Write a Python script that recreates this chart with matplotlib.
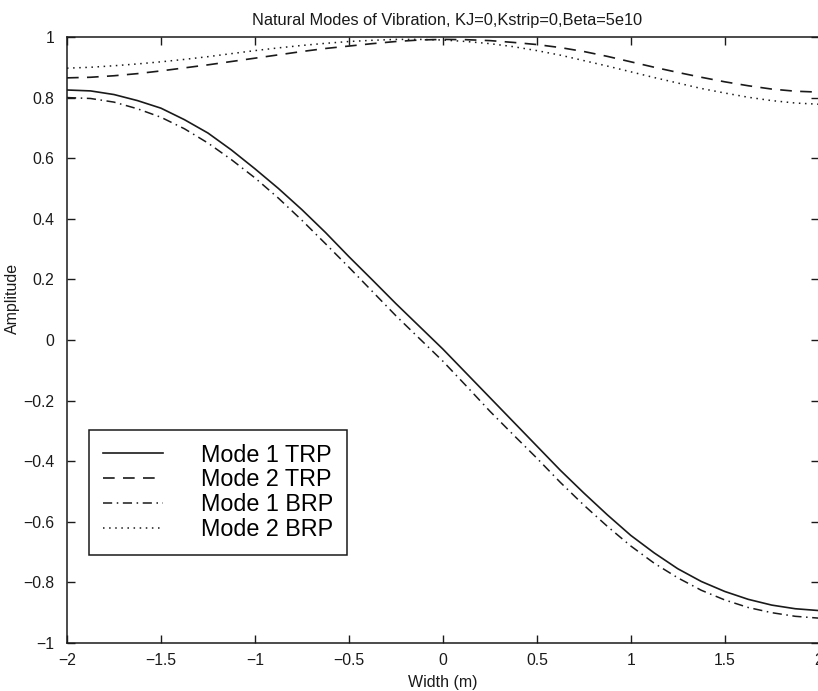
import matplotlib
matplotlib.use("Agg")
import matplotlib.pyplot as plt

plt.rcParams['font.family'] = ['Liberation Sans', 'DejaVu Sans']

width = [-2.0, -1.875, -1.75, -1.625, -1.5, -1.375, -1.25, -1.125, -1.0,
         -0.875, -0.75, -0.625, -0.5, -0.375, -0.25, -0.125, 0.0,
         0.125, 0.25, 0.375, 0.5, 0.625, 0.75, 0.875, 1.0,
         1.125, 1.25, 1.375, 1.5, 1.625, 1.75, 1.875, 2.0]

mode1_trp = [0.825, 0.822, 0.81, 0.79, 0.765, 0.727, 0.683, 0.627, 0.565,
             0.5, 0.43, 0.355, 0.275, 0.198, 0.12, 0.045, -0.03,
             -0.11, -0.19, -0.27, -0.35, -0.43, -0.505, -0.577, -0.645,
             -0.703, -0.755, -0.797, -0.83, -0.856, -0.875, -0.887, -0.893]
mode2_trp = [0.865, 0.867, 0.872, 0.879, 0.888, 0.898, 0.908, 0.919, 0.93,
             0.941, 0.952, 0.962, 0.97, 0.978, 0.985, 0.99, 0.992,
             0.991, 0.988, 0.982, 0.975, 0.965, 0.952, 0.936, 0.918,
             0.9, 0.883, 0.867, 0.852, 0.839, 0.828, 0.821, 0.818]
mode1_brp = [0.80, 0.797, 0.785, 0.763, 0.735, 0.697, 0.65, 0.595, 0.535,
             0.468, 0.395, 0.318, 0.24, 0.16, 0.08, 0.005, -0.07,
             -0.152, -0.235, -0.313, -0.39, -0.47, -0.545, -0.615, -0.68,
             -0.737, -0.785, -0.826, -0.858, -0.883, -0.90, -0.912, -0.918]
mode2_brp = [0.897, 0.9, 0.905, 0.911, 0.918, 0.926, 0.935, 0.945, 0.955,
             0.964, 0.972, 0.979, 0.985, 0.989, 0.992, 0.992, 0.99,
             0.985, 0.978, 0.968, 0.955, 0.94, 0.922, 0.904, 0.885,
             0.866, 0.848, 0.83, 0.815, 0.801, 0.79, 0.782, 0.778]

xticks = [-2, -1.5, -1, -0.5, 0, 0.5, 1, 1.5, 2]
xticklabels = ['\u22122', '\u22121.5', '\u22121', '\u22120.5', '0', '0.5', '1', '1.5', '2']
yticks = [-1, -0.8, -0.6, -0.4, -0.2, 0, 0.2, 0.4, 0.6, 0.8, 1]
yticklabels = ['\u22121', '\u22120.8', '\u22120.6', '\u22120.4', '\u22120.2', '0',
               '0.2', '0.4', '0.6', '0.8', '1']

fig = plt.figure(figsize=(8.18, 6.91), dpi=100)
ax = fig.add_axes([0.0819, 0.0695, 0.919, 0.877])

ink = '#1a1a1a'
ax.plot(width, mode1_trp, '-', color=ink, lw=1.2, label='Mode 1 TRP')
ax.plot(width, mode2_trp, color=ink, lw=1.2, dashes=(7, 5), label='Mode 2 TRP')
ax.plot(width, mode1_brp, color=ink, lw=1.1, dashes=(6, 3, 1, 3), label='Mode 1 BRP')
ax.plot(width, mode2_brp, color=ink, lw=1.1, dashes=(1, 3), label='Mode 2 BRP')

ax.set_xlim(-2, 2)
ax.set_ylim(-1, 1)
ax.set_xticks(xticks)
ax.set_xticklabels(xticklabels)
ax.set_yticks(yticks)
ax.set_yticklabels(yticklabels)
ax.tick_params(direction='in', length=6, width=1, top=True, right=True,
               labelsize=11.3, colors=ink)
ax.tick_params(axis='x', pad=7)
ax.tick_params(axis='y', pad=9)
for s in ax.spines.values():
    s.set_linewidth(1.1)
    s.set_color(ink)

fig.text(0.547, 0.970, 'Natural Modes of Vibration, KJ=0,Kstrip=0,Beta=5e10',
         fontsize=11.8, color=ink, ha='center', va='center')
ax.set_xlabel('Width (m)', fontsize=11.5, color=ink, labelpad=5)
ax.set_ylabel('Amplitude', fontsize=11.5, color=ink)
ax.yaxis.set_label_coords(-0.062, 0.569)

leg = ax.legend(loc='lower left', bbox_to_anchor=(0.029, 0.145),
                borderaxespad=0, fontsize=16.8, handlelength=2.6,
                handletextpad=1.6, labelspacing=0.08, borderpad=0.6,
                fancybox=False, framealpha=1, edgecolor=ink)
leg.get_frame().set_linewidth(1.1)

fig.savefig('out.png', dpi=100)
